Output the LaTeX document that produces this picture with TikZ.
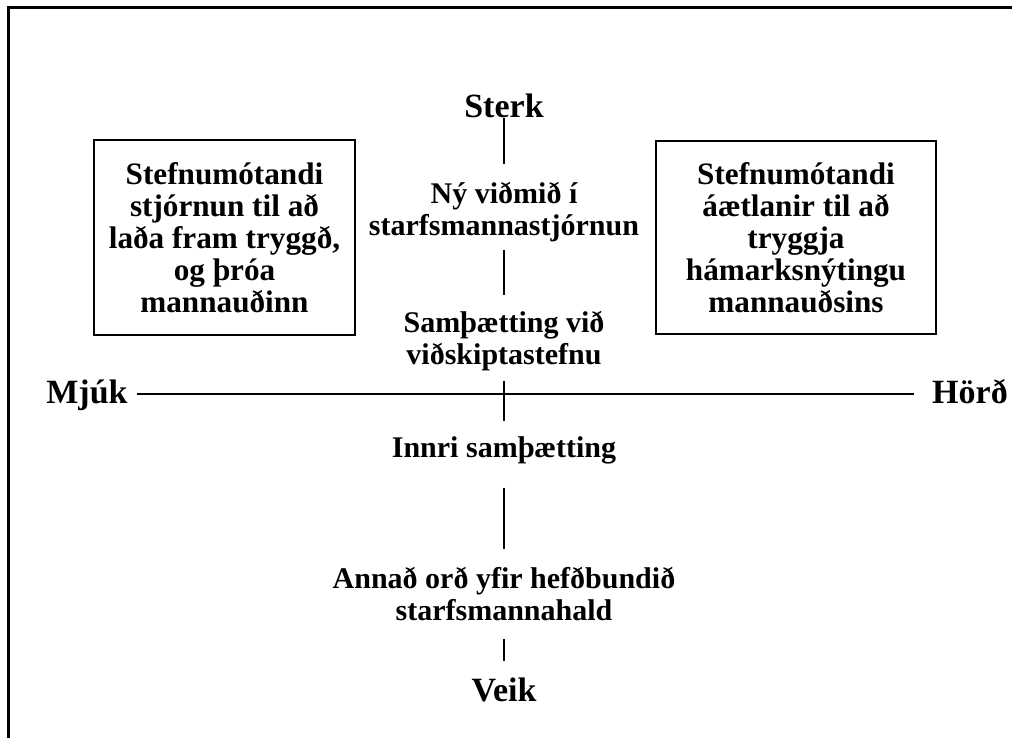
\documentclass[tikz,border=0pt]{standalone}
\usepackage{fontspec}
\setmainfont{Liberation Serif}
\tikzset{
	axislabel/.style={font=\fontsize{17}{20}\selectfont\bfseries, inner sep=0pt},
	sidelabel/.style={axislabel, text height=12pt, text depth=3pt},
	midlabel/.style={font=\fontsize{15}{16}\selectfont\bfseries, align=center, inner sep=0pt},
	quadbox/.style={draw=black, line width=0.7pt, font=\fontsize{15.6}{16}\selectfont\bfseries, align=center},
	axisline/.style={draw=black, line width=0.75pt},
}
\begin{document}
\begin{tikzpicture}[x=0.5pt, y=-0.5pt]
		\useasboundingbox (0,0) rectangle (1012,738);
		\draw[draw=black, line width=1.3pt] (8.5,745) -- (8.5,7.5) -- (1012,7.5);
		% labels on the axes
		\node[axislabel] (sterk) at (504,106) {Sterk};
		\node[axislabel] (veik) at (504,690) {Veik};
		\node[sidelabel, anchor=base] (mjuk) at (87,403) {Mjúk};
		\node[sidelabel, anchor=base] (hord) at (970,403) {Hörð};
		\node[midlabel] (nyvidmid) at (504,212) {Ný viðmið í\\starfsmannastjórnun};
		\node[midlabel] (samth) at (504,341) {Samþætting við\\viðskiptastefnu};
		\node[midlabel] (innri) at (504,450) {Innri samþætting};
		\node[midlabel] (annad) at (504,594) {Annað orð yfir hefðbundið\\starfsmannahald};
		% the two boxes
		\node[quadbox, minimum width=130.5pt, minimum height=97.5pt] (vinstri) at (224.5,237.5) {Stefnumótandi\\stjórnun til að\\laða fram tryggð,\\og þróa\\mannauðinn};
		\node[quadbox, minimum width=140pt, minimum height=96.5pt] (haegri) at (796,237.5) {Stefnumótandi\\áætlanir til að\\tryggja\\hámarksnýtingu\\mannauðsins};
		% axes
		\draw[axisline, shorten <=4.5pt, shorten >=9pt] (mjuk.east) -- (hord.west);
		\draw[axisline, shorten <=0pt, shorten >=8.75pt] (sterk) -- (nyvidmid);
		\draw[axisline, shorten <=3.75pt, shorten >=8pt] (nyvidmid) -- (samth);
		\draw[axisline, shorten <=4.75pt, shorten >=7.25pt] (samth) -- (innri);
		\draw[axisline, shorten <=11.75pt, shorten >=8.9pt] (innri) -- (annad);
		\draw[axisline, shorten <=8.9pt, shorten >=8.4pt] (annad) -- (veik);
	\end{tikzpicture}
\end{document}
